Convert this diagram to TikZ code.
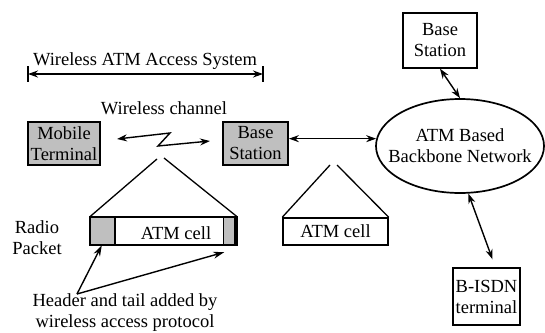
\documentclass[tikz,border=0pt]{standalone}
\usepackage{fontspec}
\setmainfont{Liberation Serif}
\usetikzlibrary{arrows.meta,shapes.geometric,calc}

\tikzset{
  shaded/.style={draw,line width=1.8pt,fill=gray!50,align=center,inner sep=0pt},
  plainbox/.style={draw,line width=1.4pt,align=center,inner sep=2pt},
  link/.style={line width=1.4pt,{Stealth[length=10pt,width=7pt]}-{Stealth[length=10pt,width=7pt]}},
  pointer/.style={line width=1.4pt,-{Stealth[length=11pt,width=7pt]}},
  fan/.style={line width=1.3pt}
}

\begin{document}
\begin{tikzpicture}[x=1pt,y=-1pt,font=\fontsize{18.5}{21}\selectfont]
  \useasboundingbox (0,0) rectangle (545,332);

  % access system span
  \node (span) at (145,61) {Wireless ATM Access System};
  \coordinate (spanl) at (28,74);
  \coordinate (spanr) at (263,74);
  \draw[link] (spanl) -- (spanr);
  \draw[line width=1.6pt] (spanl) ++(0,-8) -- ++(0,16) (spanr) ++(0,-8) -- ++(0,16);

  % terminals, stations and backbone
  \node[shaded,minimum width=72pt,minimum height=43pt] (mt) at (64,143.5) {Mobile\\Terminal};
  \node[shaded,minimum width=65pt,minimum height=43pt] (bs) at (255.5,143.5) {Base\\Station};
  \node[plainbox,minimum width=74pt,minimum height=55pt] (tbs) at (440,40.5) {Base\\Station};
  \node[draw,ellipse,line width=1.7pt,inner xsep=-13pt,minimum width=168pt,minimum height=94pt,align=center] (net) at (460,146) {ATM Based\\Backbone Network};
  \node[plainbox,minimum width=67pt,minimum height=57pt] (isdn) at (486.5,296.5) {B-ISDN\\terminal};

  \draw[link] (bs.east |- net.175) -- (net.175);
  \draw[link] (tbs.south) -- (net.north);
  \draw[link] (net.-80) -- ($(isdn.north)+(6,-8)$);

  % wireless hop
  \node (wch) at (164,108) {Wireless channel};
  \coordinate (z1) at (117,139);
  \coordinate (z2) at (170,133);
  \coordinate (z3) at (158,146);
  \coordinate (z4) at (210,141);
  \draw[link] (z1) -- (z2) -- (z3) -- (z4);

  % radio packet
  \node[minimum width=147pt,minimum height=28pt,inner sep=0pt] (rp) at (163.5,231) {};
  \fill[gray!50] (rp.north west) rectangle ([xshift=25pt]rp.south west);
  \fill[gray!50] ([xshift=-14pt]rp.north east) rectangle (rp.south east);
  \draw[line width=1.5pt] (rp.north west) rectangle (rp.south east);
  \draw[line width=1.5pt] ([xshift=25pt]rp.north west) -- ([xshift=25pt]rp.south west);
  \draw[line width=0.8pt] ([xshift=-14pt]rp.north east) -- ([xshift=-14pt]rp.south east);
  \draw[line width=3pt] ([xshift=-1.5pt]rp.north east) -- ([xshift=-1.5pt]rp.south east);
  \node (rpcell) at (176,233) {ATM cell};
  \node[align=center] (rplabel) at (37,238) {Radio\\Packet};

  \coordinate (t1l) at (157,159);
  \coordinate (t1r) at (164,158);
  \draw[fan] (t1l) -- (rp.north west);
  \draw[fan] (t1r) -- (rp.north east);

  % plain ATM cell
  \node[draw,line width=1.5pt,minimum width=105pt,minimum height=27pt] (cell) at (335.5,231.5) {ATM cell};
  \coordinate (t2l) at (330,165);
  \coordinate (t2r) at (337,165);
  \draw[fan] (t2l) -- (cell.north west);
  \draw[fan] (t2r) -- (cell.north east);

  % header / tail note
  \node[align=center] (note) at (125,313) {Header and tail added by\\wireless access protocol};
  \coordinate (notea) at (77,294);
  \draw[pointer] (notea) -- ([xshift=12pt]rp.south west);
  \draw[pointer] (notea) -- ($(rp.south east)+(-13,7)$);
\end{tikzpicture}
\end{document}
